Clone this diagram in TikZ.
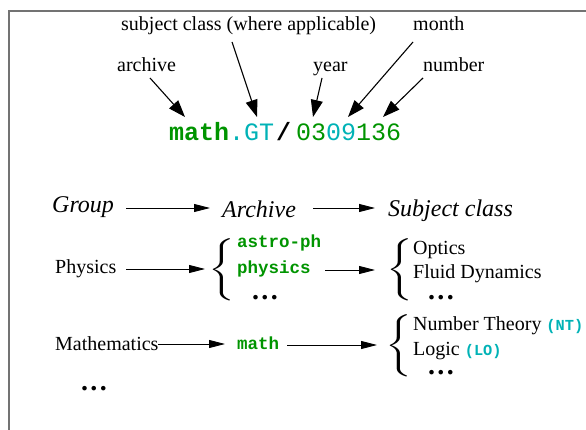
\documentclass[tikz,border=0pt]{standalone}
\usepackage{amsmath}
\usepackage{fontspec}
\setmainfont{Liberation Serif}
\setmonofont{Liberation Mono}
\usetikzlibrary{arrows.meta}
\definecolor{cgreen}{RGB}{0,148,0}
\definecolor{ccyan}{RGB}{0,178,182}
\newcommand{\abbrtag}[1]{{\fontsize{15.3}{18}\selectfont\ttfamily\bfseries\color{ccyan}#1}}
\newcommand{\mydots}{.\hspace{2.5pt}.\hspace{2.5pt}.}
\newcommand{\bigbrace}[1]{\scalebox{1.6}[1]{$\left\{\vcenter{\hrule height #1 width 0pt}\right.$}}
\begin{document}
\begin{tikzpicture}[x=1pt,y=-1pt,
  lab/.style={inner sep=0pt, anchor=base west, font=\fontsize{20}{24}\selectfont},
  ital/.style={inner sep=0pt, anchor=base west, font=\fontsize{24}{28}\selectfont\itshape},
  bigcode/.style={inner sep=0pt, anchor=base west, font=\fontsize{25}{30}\selectfont\ttfamily},
  code/.style={inner sep=0pt, anchor=base west, font=\fontsize{17.5}{21}\selectfont\ttfamily\bfseries, text=cgreen},
  dotsnode/.style={inner sep=0pt, anchor=center, font=\fontsize{28}{30}\selectfont\bfseries},
  bracenode/.style={inner sep=0pt, anchor=center, font=\fontsize{20}{24}\selectfont},
  tarr/.style={-{Triangle[length=17pt,width=12pt]}, line width=1.1pt},
  rarr/.style={-{Triangle[length=16pt,width=8pt]}, line width=0.9pt},
  frameline/.style={draw=black!55, line width=1.2pt}]
\useasboundingbox (0,0) rectangle (586,430);
\draw[frameline] (9,430) -- (9,11) -- (586,11);

% top labels
\node[lab] (lsubj) at (121,31) {subject class (where applicable)};
\node[lab] (lmonth) at (413,31) {month};
\node[lab] (larch) at (117,72) {archive};
\node[lab] (lyear) at (313,72) {year};
\node[lab] (lnum) at (423,72) {number};

% identifier
\node[bigcode, font=\fontsize{25}{30}\selectfont\ttfamily\bfseries, text=cgreen] (cmath) at (169,141) {math};
\node[bigcode, text=ccyan] (cgt) at (229,141) {.GT};
\node[bigcode, font=\fontsize{25}{30}\selectfont\ttfamily\bfseries] (cslash) at (276,141) {/};
\node[bigcode, text=cgreen] (c03) at (296,141) {03};
\node[bigcode, text=ccyan] (c09) at (326,141) {09};
\node[bigcode, text=cgreen] (c136) at (356,141) {136};

\draw[tarr] ([shift={(33,6)}]larch.base west) -- ([shift={(16,-24)}]cmath.base west);
\draw[tarr] ([shift={(111,11)}]lsubj.base west) -- ([shift={(28,-24)}]cgt.base west);
\draw[tarr] ([shift={(9,6)}]lyear.base west) -- ([shift={(17,-24)}]c03.base west);
\draw[tarr] ([shift={(0,11)}]lmonth.base west) -- ([shift={(22,-24)}]c09.base west);
\draw[tarr] ([shift={(0,6)}]lnum.base west) -- ([shift={(27,-24)}]c136.base west);

% header row
\node[ital] (group) at (52,213) {Group};
\node[ital] (archv) at (222,218) {Archive};
\node[ital] (subjc) at (388,217) {Subject class};
\draw[rarr] ([shift={(74,-5)}]group.base west) -- ([shift={(-12,-10)}]archv.base west);
\draw[rarr] ([shift={(91,-10)}]archv.base west) -- ([shift={(-13,-9)}]subjc.base west);

% physics row
\node[lab] (phys) at (55,274) {Physics};
\node[bracenode] (br1) at (223,270) {\bigbrace{58pt}};
\node[code] (astro) at (237,248) {astro-ph};
\node[code] (physc) at (237,273) {physics};
\node[dotsnode] (pdots) at (265,298) {\mydots};
\node[bracenode] (br2) at (401,270) {\bigbrace{58pt}};
\node[lab] (optics) at (413,255) {Optics};
\node[lab] (fluid) at (413,279) {Fluid Dynamics};
\node[dotsnode] (sdots) at (441,298) {\mydots};
\draw[rarr] ([shift={(71,-5)}]phys.base west) -- ([shift={(-18,-1)}]br1.center);
\draw[rarr] ([shift={(88,-3)}]physc.base west) -- ([shift={(-26,0)}]br2.center);

% mathematics row
\node[lab] (mathem) at (55,350) {Mathematics};
\node[code] (lmath) at (237,349) {math};
\node[bracenode] (br3) at (400,346) {\bigbrace{60pt}};
\node[lab] (nt) at (413,330) {Number Theory \abbrtag{(NT)}};
\node[lab] (lo) at (413,355) {Logic \abbrtag{(LO)}};
\node[dotsnode] (mdots) at (441,373) {\mydots};
\draw[rarr] ([shift={(103,-6)}]mathem.base west) -- ([shift={(-12,-5)}]lmath.base west);
\draw[rarr] ([shift={(50,-4)}]lmath.base west) -- ([shift={(-23,-1)}]br3.center);

\node[dotsnode] (gdots) at (94,389) {\mydots};
\end{tikzpicture}
\end{document}
